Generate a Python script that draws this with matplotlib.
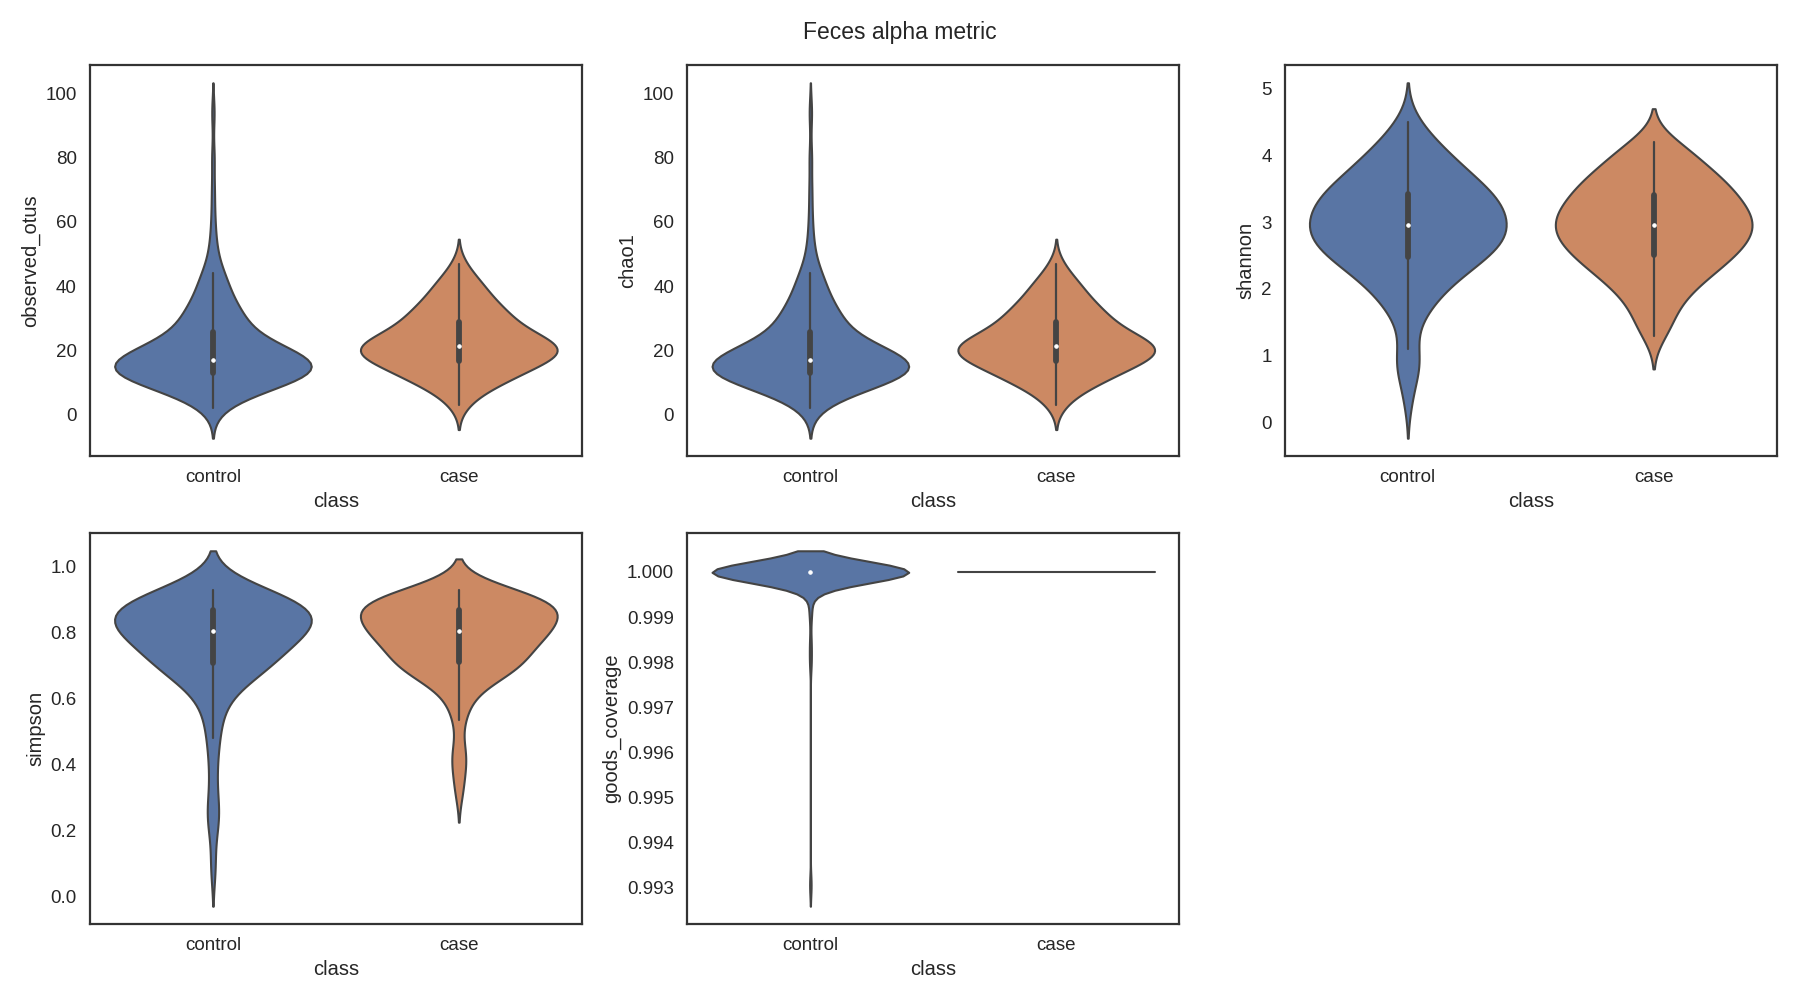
import numpy as np
import pandas as pd
import matplotlib
matplotlib.use("Agg")
import matplotlib.pyplot as plt
import seaborn as sns

classes = ["control", "case"]

# observed OTUs: value and number of samples having it
otus_control_vals = [2, 3, 4, 5, 6, 7, 8, 9, 10, 11, 12, 13, 14, 15, 16, 17, 18, 19, 20, 21, 22,
                     23, 24, 25, 26, 27, 28, 29, 30, 31, 32, 33, 34, 35, 36, 37, 38, 39, 40, 41,
                     42, 43, 44, 47, 49, 52, 56, 62, 70, 80, 94]
otus_control_cnts = [1, 1, 1, 2, 2, 3, 4, 5, 6, 8, 9, 9, 9, 9, 9, 9, 8, 7, 6, 5, 4,
                     4, 3, 3, 3, 2, 3, 2, 3, 2, 3, 2, 2, 1, 2, 1, 1, 1, 2, 1,
                     1, 1, 2, 1, 1, 1, 1, 1, 1, 1, 1]
otus_case_vals = [3, 5, 7, 8, 9, 10, 11, 12, 13, 14, 15, 16, 17, 18, 19, 20, 21, 22, 23, 24,
                  25, 26, 27, 28, 29, 30, 31, 32, 33, 34, 35, 36, 37, 38, 39, 40, 41, 42, 44, 47]
otus_case_cnts = [1, 1, 1, 1, 1, 2, 2, 2, 2, 3, 2, 2, 4, 4, 4, 4, 4, 4, 3, 3,
                  3, 2, 2, 2, 2, 2, 2, 1, 2, 2, 1, 1, 1, 1, 1, 1, 1, 1, 1, 1]

# chao1 is the same as observed_otus for these samples
chao1_control_vals = list(otus_control_vals)
chao1_control_cnts = list(otus_control_cnts)
chao1_case_vals = list(otus_case_vals)
chao1_case_cnts = list(otus_case_cnts)

shannon_control_vals = [0.35, 0.75, 0.85, 0.9, 1.1, 1.4, 1.6, 1.7, 1.8, 1.9, 2.0, 2.1, 2.2, 2.3,
                        2.4, 2.5, 2.6, 2.7, 2.8, 2.9, 3.0, 3.1, 3.2, 3.3, 3.4, 3.5, 3.6, 3.7,
                        3.8, 3.9, 4.0, 4.1, 4.2, 4.3, 4.4, 4.5]
shannon_control_cnts = [1, 1, 1, 1, 1, 1, 1, 1, 2, 1, 2, 2, 3, 3,
                        4, 4, 5, 5, 6, 5, 5, 5, 5, 5, 5, 4, 4, 3,
                        3, 2, 3, 2, 1, 1, 1, 1]
shannon_case_vals = [1.3, 1.4, 1.5, 1.6, 1.7, 1.8, 1.9, 2.0, 2.1, 2.2, 2.3, 2.4, 2.5, 2.6, 2.7,
                     2.8, 2.9, 3.0, 3.1, 3.2, 3.3, 3.4, 3.5, 3.6, 3.7, 3.8, 3.9, 4.0, 4.1, 4.2]
shannon_case_cnts = [1, 1, 1, 1, 1, 1, 2, 2, 2, 3, 3, 4, 4, 4, 5,
                     5, 5, 5, 5, 5, 4, 4, 4, 4, 3, 3, 2, 2, 2, 2]

simpson_control_vals = [0.09, 0.21, 0.25, 0.28, 0.36, 0.43, 0.48, 0.52, 0.55, 0.58, 0.60, 0.62,
                        0.64, 0.65, 0.66, 0.67, 0.68, 0.69, 0.70, 0.71, 0.72, 0.73, 0.74, 0.75,
                        0.76, 0.77, 0.78, 0.79, 0.80, 0.81, 0.82, 0.83, 0.84, 0.85, 0.86, 0.87,
                        0.88, 0.89, 0.90, 0.91, 0.92, 0.93]
simpson_control_cnts = [1, 1, 1, 1, 1, 1, 1, 1, 1, 1, 1, 1,
                        1, 1, 1, 2, 2, 3, 3, 2, 2, 2, 2, 2,
                        3, 3, 3, 3, 3, 4, 4, 4, 4, 4, 4, 4,
                        4, 4, 4, 4, 3, 3]
simpson_case_vals = [0.32, 0.38, 0.42, 0.45, 0.535, 0.57, 0.60, 0.62, 0.64, 0.65, 0.66, 0.67,
                     0.68, 0.69, 0.70, 0.71, 0.72, 0.73, 0.74, 0.75, 0.76, 0.77, 0.78, 0.79,
                     0.80, 0.81, 0.82, 0.83, 0.84, 0.85, 0.86, 0.87, 0.88, 0.89, 0.90, 0.91,
                     0.92, 0.93]
simpson_case_cnts = [1, 1, 1, 1, 1, 1, 1, 1, 1, 1, 1, 2,
                     2, 2, 3, 3, 2, 2, 2, 2, 2, 3, 3, 3,
                     3, 4, 3, 3, 3, 3, 4, 3, 4, 4, 4, 4,
                     3, 3]

goods_control_vals = [0.99306, 0.99800, 0.99840, 0.99905, 0.99930, 0.99960, 0.99980, 0.99990, 1.0]
goods_control_cnts = [1, 1, 1, 1, 1, 1, 2, 4, 128]
goods_case_vals = [1.0]
goods_case_cnts = [90]

metrics = ["observed_otus", "chao1", "shannon", "simpson", "goods_coverage"]
metric_data = {
    "observed_otus": (otus_control_vals, otus_control_cnts, otus_case_vals, otus_case_cnts),
    "chao1": (chao1_control_vals, chao1_control_cnts, chao1_case_vals, chao1_case_cnts),
    "shannon": (shannon_control_vals, shannon_control_cnts, shannon_case_vals, shannon_case_cnts),
    "simpson": (simpson_control_vals, simpson_control_cnts, simpson_case_vals, simpson_case_cnts),
    "goods_coverage": (goods_control_vals, goods_control_cnts, goods_case_vals, goods_case_cnts),
}
bw_adjust = {"observed_otus": 0.96, "chao1": 0.96, "shannon": 0.9, "simpson": 0.93, "goods_coverage": 1.0}


def make_frame(metric):
    c_vals, c_cnts, k_vals, k_cnts = metric_data[metric]
    control = np.repeat(c_vals, c_cnts)
    case = np.repeat(k_vals, k_cnts)
    return pd.DataFrame({
        "class": ["control"] * len(control) + ["case"] * len(case),
        metric: np.concatenate([control, case]),
    })


sns.set_theme(style="white")
plt.rcParams["font.family"] = ["Liberation Sans", "DejaVu Sans"]
plt.rcParams["axes.edgecolor"] = "#333333"
plt.rcParams["axes.linewidth"] = 1.6

fig, axes = plt.subplots(2, 3, figsize=(18, 10), dpi=100)
fig.subplots_adjust(left=0.05, right=0.987, top=0.935, bottom=0.076, wspace=0.215, hspace=0.197)

for ax, metric in zip(axes.flat, metrics):
    df = make_frame(metric)
    sns.violinplot(data=df, x="class", y=metric, hue="class", order=classes, hue_order=classes,
                   palette="deep", saturation=0.75, legend=False, linewidth=1.5,
                   linecolor="#444444", bw_adjust=bw_adjust[metric], ax=ax,
                   inner_kws=dict(box_width=4.2, whis_width=1.6, marker="o", markersize=2.4,
                                  solid_capstyle="round"))
    ax.set_xlabel("class", fontsize=14.5)
    ax.set_ylabel(metric, fontsize=14.5)
    ax.tick_params(axis="both", labelsize=13.5, colors="#262626")

axes[1, 2].remove()

fig.suptitle("Feces alpha metric", fontsize=16.5, y=0.979, va="top", color="#262626")
fig.savefig("out.png", dpi=100)
